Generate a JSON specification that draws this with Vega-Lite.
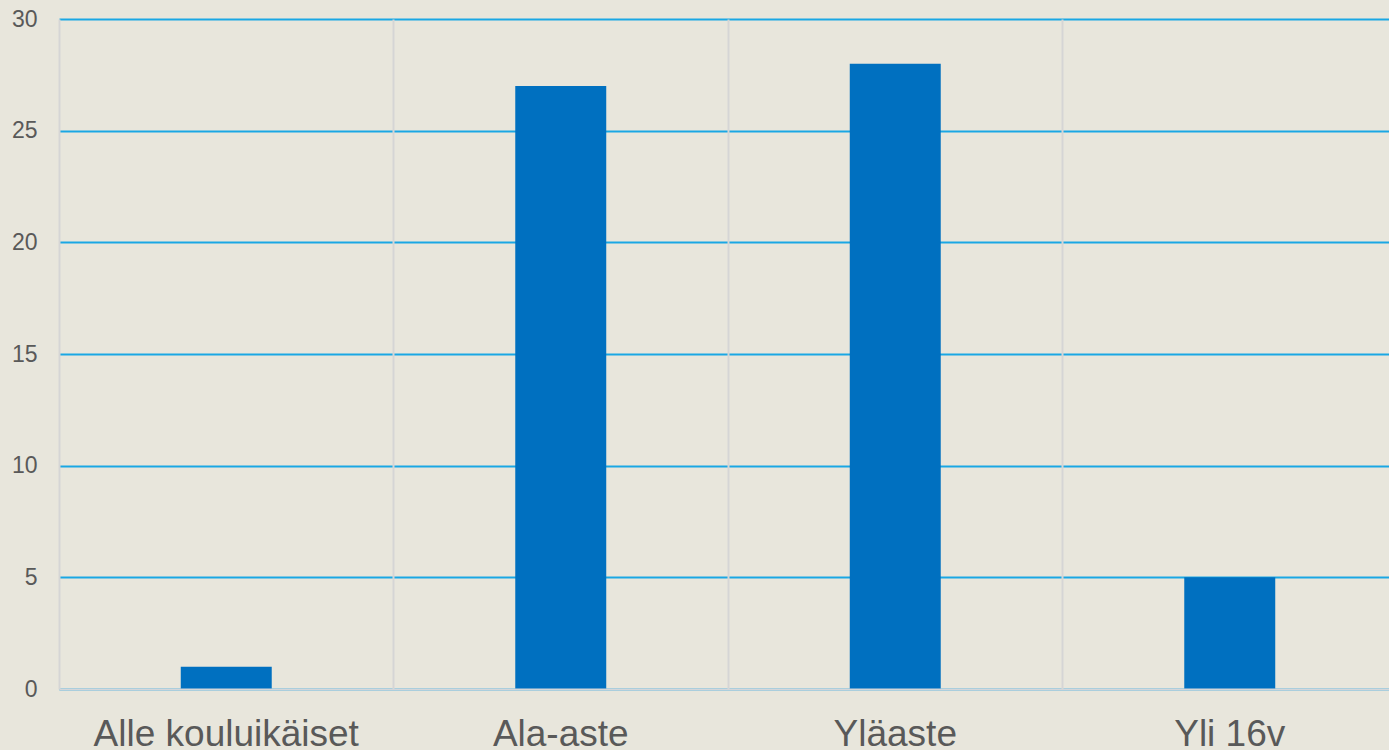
{
  "$schema": "https://vega.github.io/schema/vega-lite/v6.json",
  "autosize": {"type": "none"},
  "padding": {"left": 59, "top": 19, "right": 0, "bottom": 61},
  "width": 1330,
  "height": 670,
  "background": "#E8E6DC",
  "config": {"view": {"stroke": null}, "font": "Liberation Sans"},
  "data": {
    "values": [
      {"ryhma": "Alle kouluikäiset", "maara": 1},
      {"ryhma": "Ala-aste", "maara": 27},
      {"ryhma": "Yläaste", "maara": 28},
      {"ryhma": "Yli 16v", "maara": 5}
    ]
  },
  "layer": [
    {
      "mark": {"type": "bar", "color": "#0070C0", "width": {"band": 0.272}},
      "encoding": {
        "x": {
          "field": "ryhma",
          "type": "nominal",
          "sort": null,
          "scale": {"paddingInner": 0, "paddingOuter": 0, "range": [0, 1338]},
          "axis": {
            "title": null,
            "zindex": 1,
            "labelAngle": 0,
            "labelLimit": 0,
            "labelFont": "Liberation Sans",
            "labelFontSize": 37,
            "labelColor": "#595959",
            "labelBaseline": "alphabetic",
            "labelPadding": 56,
            "ticks": false,
            "tickSize": 0,
            "domain": true,
            "domainColor": "#D3D6DA",
            "domainWidth": 2,
            "grid": true,
            "bandPosition": 0,
            "gridColor": "#D5D5D5",
            "gridWidth": 2
          }
        },
        "y": {
          "field": "maara",
          "type": "quantitative",
          "scale": {"domain": [0, 30], "nice": false},
          "axis": {
            "title": null,
            "values": [0, 5, 10, 15, 20, 25, 30],
            "labelFont": "Liberation Sans",
            "labelFontSize": 23,
            "labelColor": "#595959",
            "labelPadding": 22,
            "ticks": false,
            "tickSize": 0,
            "domain": false,
            "grid": true,
            "gridColor": "#1AA7E4",
            "gridWidth": 2
          }
        }
      }
    }
  ]
}
